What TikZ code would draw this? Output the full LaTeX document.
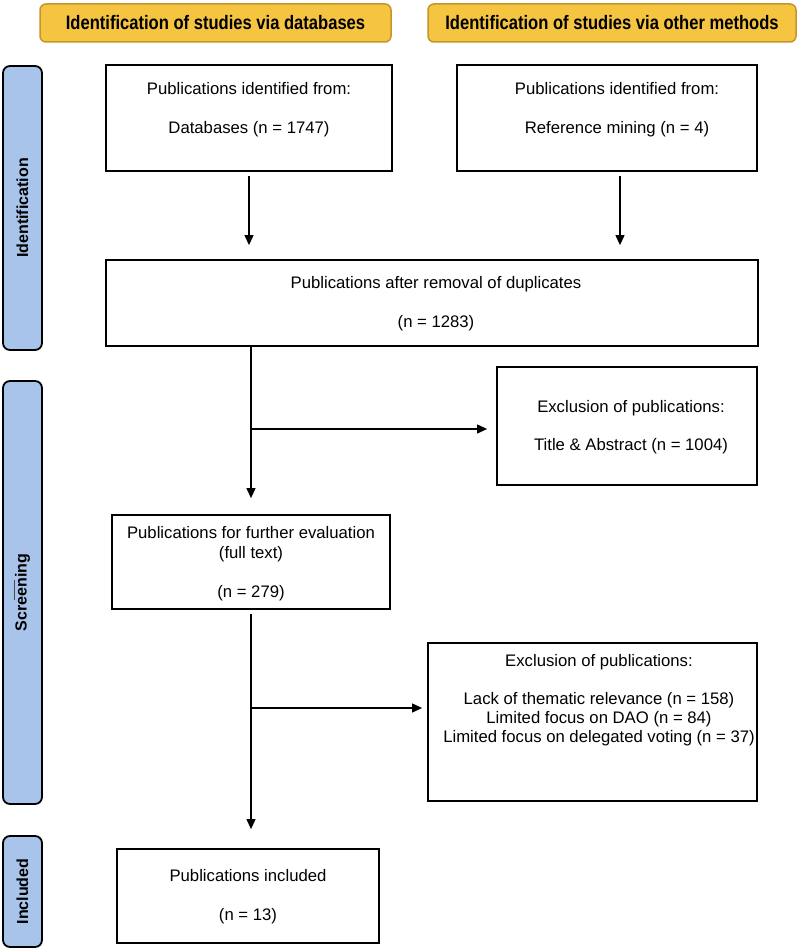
\documentclass[tikz,border=0pt]{standalone}
\usepackage{fontspec}
\setmainfont{Liberation Sans}
\newfontfamily\hdrfont{Liberation Sans}[FakeStretch=0.85]
\usetikzlibrary{arrows.meta,calc}
\definecolor{hdrfill}{RGB}{245,197,66}
\definecolor{hdrdraw}{RGB}{196,150,40}
\definecolor{barfill}{RGB}{169,196,235}
\begin{document}
\begin{tikzpicture}[x=1pt,y=-1pt,
  box/.style={draw=black, line width=1.8pt, inner sep=0pt},
  hdr/.style={draw=hdrdraw, fill=hdrfill, line width=1.5pt, rounded corners=6pt,
    inner sep=0pt, font=\hdrfont\bfseries\fontsize{19.5}{22}\selectfont},
  bar/.style={draw=black, fill=barfill, line width=1.8pt, rounded corners=7pt, inner sep=0pt},
  barlbl/.style={rotate=90, font=\bfseries\fontsize{16}{18}\selectfont, inner sep=0pt},
  txt/.style={align=center, font=\fontsize{16.7}{19.5}\selectfont, inner sep=0pt},
  arr/.style={draw=black, line width=1.1pt, -{Triangle[length=10pt,width=9pt]}},
]
\useasboundingbox[fill=white] (0,0) rectangle (803,952);

% headers
\node[hdr, minimum width=351pt, minimum height=38pt] (h1) at (215.5,23) {Identification of studies via databases};
\node[hdr, minimum width=368pt, minimum height=38pt] (h2) at (612,23) {Identification of studies via other methods};

% side bars
\node[bar, minimum width=39pt, minimum height=284pt] (sid) at (22.5,208) {};
\node[barlbl] at (sid) {Identification};
\node[bar, minimum width=39pt, minimum height=423pt] (sscr) at (22.5,592.5) {};
\node[barlbl] at (sscr) {Screening};
\node[bar, minimum width=39pt, minimum height=111pt] (sinc) at (22.5,891.5) {};
\node[barlbl] at (sinc) {Included};
\draw[black!70, line width=0.9pt] (14,580) -- (14,600);

% boxes
\node[box, minimum width=286pt, minimum height=106pt] (b1) at (249,118) {};
\node[txt] (t1) at (249,109.5) {Publications identified from:\\[19.5pt]Databases (n = 1747)};
\node[box, minimum width=300pt, minimum height=106pt] (b2) at (607,118) {};
\node[txt] (t2) at (617,109.5) {Publications identified from:\\[19.5pt]Reference mining (n = 4)};
\node[box, minimum width=652pt, minimum height=86pt] (b3) at (432,303) {};
\node[txt] (t3) at (436,303.5) {Publications after removal of duplicates\\[19.5pt](n = 1283)};
\node[box, minimum width=260pt, minimum height=118pt] (b5) at (627,426) {};
\node[txt] (t5) at (631,427) {Exclusion of publications:\\[19pt]Title \& Abstract (n = 1004)};
\node[box, minimum width=278pt, minimum height=94pt] (b4) at (251,562) {};
\node[txt] (t4) at (251,563.5) {Publications for further evaluation\\(full text)\\[19.5pt](n = 279)};
\node[box, minimum width=329pt, minimum height=158pt] (b7) at (592.5,722) {};
\node[txt, font=\fontsize{16.7}{19}\selectfont] (t7) at (599,700) {Exclusion of publications:\\[19pt]Lack of thematic relevance (n = 158)\\Limited focus on DAO (n = 84)\\Limited focus on delegated voting (n = 37)};
\node[box, minimum width=262pt, minimum height=94pt] (b6) at (248,896) {};
\node[txt] (t6) at (248,897) {Publications included\\[19.5pt](n = 13)};

% connectors
\draw[arr, shorten <=4pt, shorten >=14pt] (b1.south) -- (b1.south |- b3.north);
\draw[arr, shorten <=4pt, shorten >=14pt] ([xshift=13pt]b2.south) -- ([xshift=13pt]b2.south |- b3.north);
\draw[arr, shorten >=16pt] (b4.north |- b3.south) -- (b4.north);
\coordinate (j1) at (251,429);
\draw[arr, shorten >=9pt] (j1) -- (j1 -| b5.west);
\draw[arr, shorten <=4pt, shorten >=19pt] (b4.south) -- (b4.south |- b6.north);
\coordinate (j2) at (251,708);
\draw[arr, shorten >=5pt] (j2) -- (j2 -| b7.west);
\end{tikzpicture}
\end{document}
